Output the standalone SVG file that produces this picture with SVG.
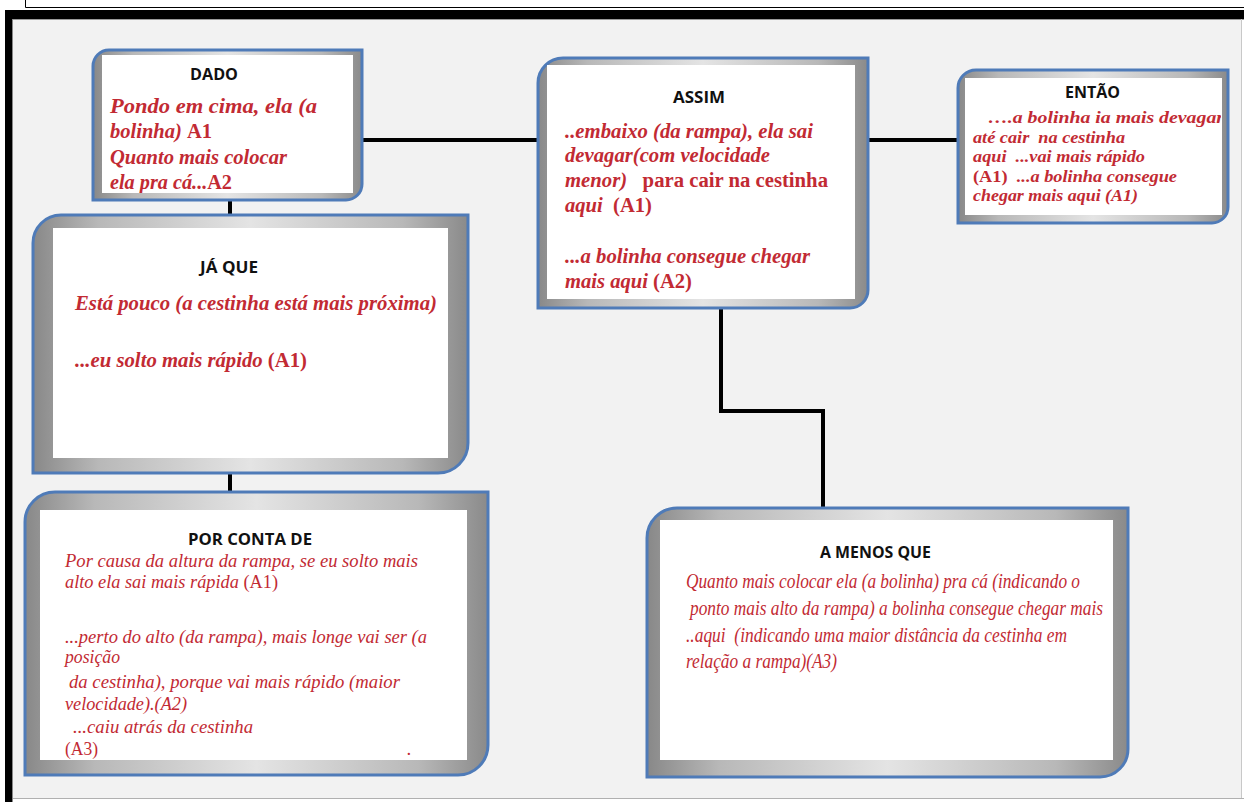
<svg xmlns="http://www.w3.org/2000/svg" width="1244" height="802" viewBox="0 0 1244 802">
<style>
.h{font-family:"Open Sans","Liberation Sans",sans-serif;font-weight:bold;font-size:16.5px;fill:#111}
.t{font-family:"Liberation Serif","Times New Roman",serif;font-style:italic;font-weight:normal;font-size:20.5px;fill:#c22a33}
.b{font-weight:bold}
.e{font-size:17px}
.p{font-size:18.5px}
.m{font-size:21px}
.u{font-style:normal}
.frame{stroke:#4f7bb8;stroke-width:3;fill:url(#band)}
.inner{fill:#fff}
.conn{stroke:#000;stroke-width:4;fill:none}
</style>
<defs>
<linearGradient id="band" x1="0" y1="0" x2="1" y2="0">
<stop offset="0" stop-color="#888"/>
<stop offset="0.15" stop-color="#b8b8b8"/>
<stop offset="0.5" stop-color="#e4e4e4"/>
<stop offset="0.85" stop-color="#b8b8b8"/>
<stop offset="1" stop-color="#8a8a8a"/>
</linearGradient>
<clipPath id="cDado"><rect x="102" y="55" width="251" height="138"/></clipPath>
<clipPath id="cEntao"><rect x="965" y="78" width="256" height="137"/></clipPath>
</defs>
<rect width="1244" height="802" fill="#fff"/>
<path d="M25.5,0 V7.5 H1244" stroke="#000" fill="none"/>
<rect x="5" y="10" width="1239" height="9" fill="#000"/>
<rect x="5" y="10" width="8" height="792" fill="#000"/>
<rect x="13" y="19" width="1228" height="779" fill="#f2f2f2"/>
<line x1="12.5" y1="19" x2="12.5" y2="802" stroke="#888"/>
<line x1="13" y1="19.5" x2="1244" y2="19.5" stroke="#999"/>
<line x1="1241.5" y1="19" x2="1241.5" y2="798" stroke="#c8c8c8"/>
<line x1="13" y1="798.5" x2="1244" y2="798.5" stroke="#b0b0b0"/>

<g id="connectors">
<line class="conn" x1="362" y1="140" x2="538" y2="140"/>
<line class="conn" x1="868" y1="140" x2="958" y2="140"/>
<line class="conn" x1="230" y1="200" x2="230" y2="215"/>
<line class="conn" x1="230" y1="473" x2="230" y2="492"/>
<path class="conn" d="M721,308 V411 H823 V508"/>
</g>

<g id="dado">
<path class="frame" d="M93,66 A16,16 0 0 1 109,50 H362 V184 A16,16 0 0 1 346,200 H93 Z"/>
<rect class="inner" x="102" y="55" width="251" height="138"/>
<text class="h" x="190" y="80" textLength="48" lengthAdjust="spacingAndGlyphs">DADO</text>
<g clip-path="url(#cDado)">
<text class="t b" x="110" y="113" textLength="207" lengthAdjust="spacingAndGlyphs">Pondo em cima, ela (a</text>
<text class="t b" x="110" y="138" textLength="102" lengthAdjust="spacingAndGlyphs">bolinha) <tspan class="u">A1</tspan></text>
<text class="t b" x="110" y="164" textLength="177" lengthAdjust="spacingAndGlyphs">Quanto mais colocar</text>
<text class="t b" x="110" y="189" textLength="122" lengthAdjust="spacingAndGlyphs">ela pra cá...<tspan class="u">A2</tspan></text>
</g>
</g>

<g id="assim">
<path class="frame" d="M538,83 A25,25 0 0 1 563,58 H868 V290 A18,18 0 0 1 850,308 H538 Z"/>
<rect class="inner" x="547" y="65" width="308" height="234"/>
<text class="h" x="673" y="103" textLength="52" lengthAdjust="spacingAndGlyphs">ASSIM</text>
<text class="t b" x="565" y="138" textLength="248" lengthAdjust="spacingAndGlyphs">..embaixo (da rampa), ela sai</text>
<text class="t b" x="565" y="162" textLength="205" lengthAdjust="spacingAndGlyphs">devagar(com velocidade</text>
<text class="t b" x="565" y="187" textLength="263" lengthAdjust="spacingAndGlyphs" xml:space="preserve">menor)   <tspan class="u">para cair na cestinha</tspan></text>
<text class="t b" x="565" y="212" textLength="87" lengthAdjust="spacingAndGlyphs" xml:space="preserve">aqui  <tspan class="u">(A1)</tspan></text>
<text class="t b" x="565" y="263" textLength="245" lengthAdjust="spacingAndGlyphs">...a bolinha consegue chegar</text>
<text class="t b" x="565" y="288" textLength="127" lengthAdjust="spacingAndGlyphs">mais aqui <tspan class="u">(A2)</tspan></text>
</g>

<g id="entao">
<path class="frame" d="M958,88 A18,18 0 0 1 976,70 H1228 V207 A16,16 0 0 1 1212,223 H958 Z"/>
<rect class="inner" x="965" y="78" width="257" height="137"/>
<text class="h" x="1065" y="98" textLength="55" lengthAdjust="spacingAndGlyphs">ENTÃO</text>
<g clip-path="url(#cEntao)">
<text class="t b e" x="988" y="123" textLength="236" lengthAdjust="spacingAndGlyphs">….a bolinha ia mais devagar</text>
<text class="t b e" x="973" y="143" textLength="152" lengthAdjust="spacingAndGlyphs" xml:space="preserve">até cair  na cestinha</text>
<text class="t b e" x="973" y="162" textLength="172" lengthAdjust="spacingAndGlyphs" xml:space="preserve">aqui  ...vai mais rápido</text>
<text class="t b e" x="973" y="182" textLength="204" lengthAdjust="spacingAndGlyphs" xml:space="preserve"><tspan class="u">(A1)</tspan>  ...a bolinha consegue</text>
<text class="t b e" x="973" y="201" textLength="165" lengthAdjust="spacingAndGlyphs">chegar mais aqui (A1)</text>
</g>
</g>

<g id="ja-que">
<path class="frame" d="M33,243 A28,28 0 0 1 61,215 H468 V443 A30,30 0 0 1 438,473 H33 Z"/>
<rect class="inner" x="53" y="228" width="395" height="230"/>
<text class="h" x="200" y="273" textLength="58" lengthAdjust="spacingAndGlyphs">JÁ QUE</text>
<text class="t b" x="75" y="310" textLength="362" lengthAdjust="spacingAndGlyphs">Está pouco (a cestinha está mais próxima)</text>
<text class="t b" x="75" y="367" textLength="232" lengthAdjust="spacingAndGlyphs">...eu solto mais rápido <tspan class="u">(A1)</tspan></text>
</g>

<g id="por-conta-de">
<path class="frame" d="M25,522 A30,30 0 0 1 55,492 H488 V745 A30,30 0 0 1 458,775 H25 Z"/>
<rect class="inner" x="40" y="510" width="427" height="250"/>
<text class="h" x="188" y="545" textLength="124" lengthAdjust="spacingAndGlyphs">POR CONTA DE</text>
<text class="t p" x="65" y="567" textLength="353" lengthAdjust="spacingAndGlyphs">Por causa da altura da rampa, se eu solto mais</text>
<text class="t p" x="65" y="588" textLength="213" lengthAdjust="spacingAndGlyphs">alto ela sai mais rápida <tspan class="u">(A1)</tspan></text>
<text class="t p" x="65" y="643" textLength="362" lengthAdjust="spacingAndGlyphs">...perto do alto (da rampa), mais longe vai ser (a</text>
<text class="t p" x="65" y="663" textLength="55" lengthAdjust="spacingAndGlyphs">posição</text>
<text class="t p" x="69" y="688" textLength="331" lengthAdjust="spacingAndGlyphs">da cestinha), porque vai mais rápido (maior</text>
<text class="t p" x="65" y="710" textLength="122" lengthAdjust="spacingAndGlyphs">velocidade).(A2)</text>
<text class="t p" x="73" y="733" textLength="180" lengthAdjust="spacingAndGlyphs">...caiu atrás da cestinha</text>
<text class="t p u" x="65" y="755" textLength="33" lengthAdjust="spacingAndGlyphs">(A3)</text>
<text class="t p" x="407" y="755">.</text>
</g>

<g id="a-menos-que">
<path class="frame" d="M647,538 A30,30 0 0 1 677,508 H1128 V749 A28,28 0 0 1 1100,777 H647 Z"/>
<rect class="inner" x="660" y="520" width="453" height="240"/>
<text class="h" x="820" y="558" textLength="111" lengthAdjust="spacingAndGlyphs">A MENOS QUE</text>
<text class="t m" x="686" y="588" textLength="394" lengthAdjust="spacingAndGlyphs">Quanto mais colocar ela (a bolinha) pra cá (indicando o</text>
<text class="t m" x="690" y="615" textLength="413" lengthAdjust="spacingAndGlyphs">ponto mais alto da rampa) a bolinha consegue chegar mais</text>
<text class="t m" x="686" y="642" textLength="381" lengthAdjust="spacingAndGlyphs" xml:space="preserve">..aqui  (indicando uma maior distância da cestinha em</text>
<text class="t m" x="686" y="668" textLength="151" lengthAdjust="spacingAndGlyphs">relação a rampa)(A3)</text>
</g>
</svg>
